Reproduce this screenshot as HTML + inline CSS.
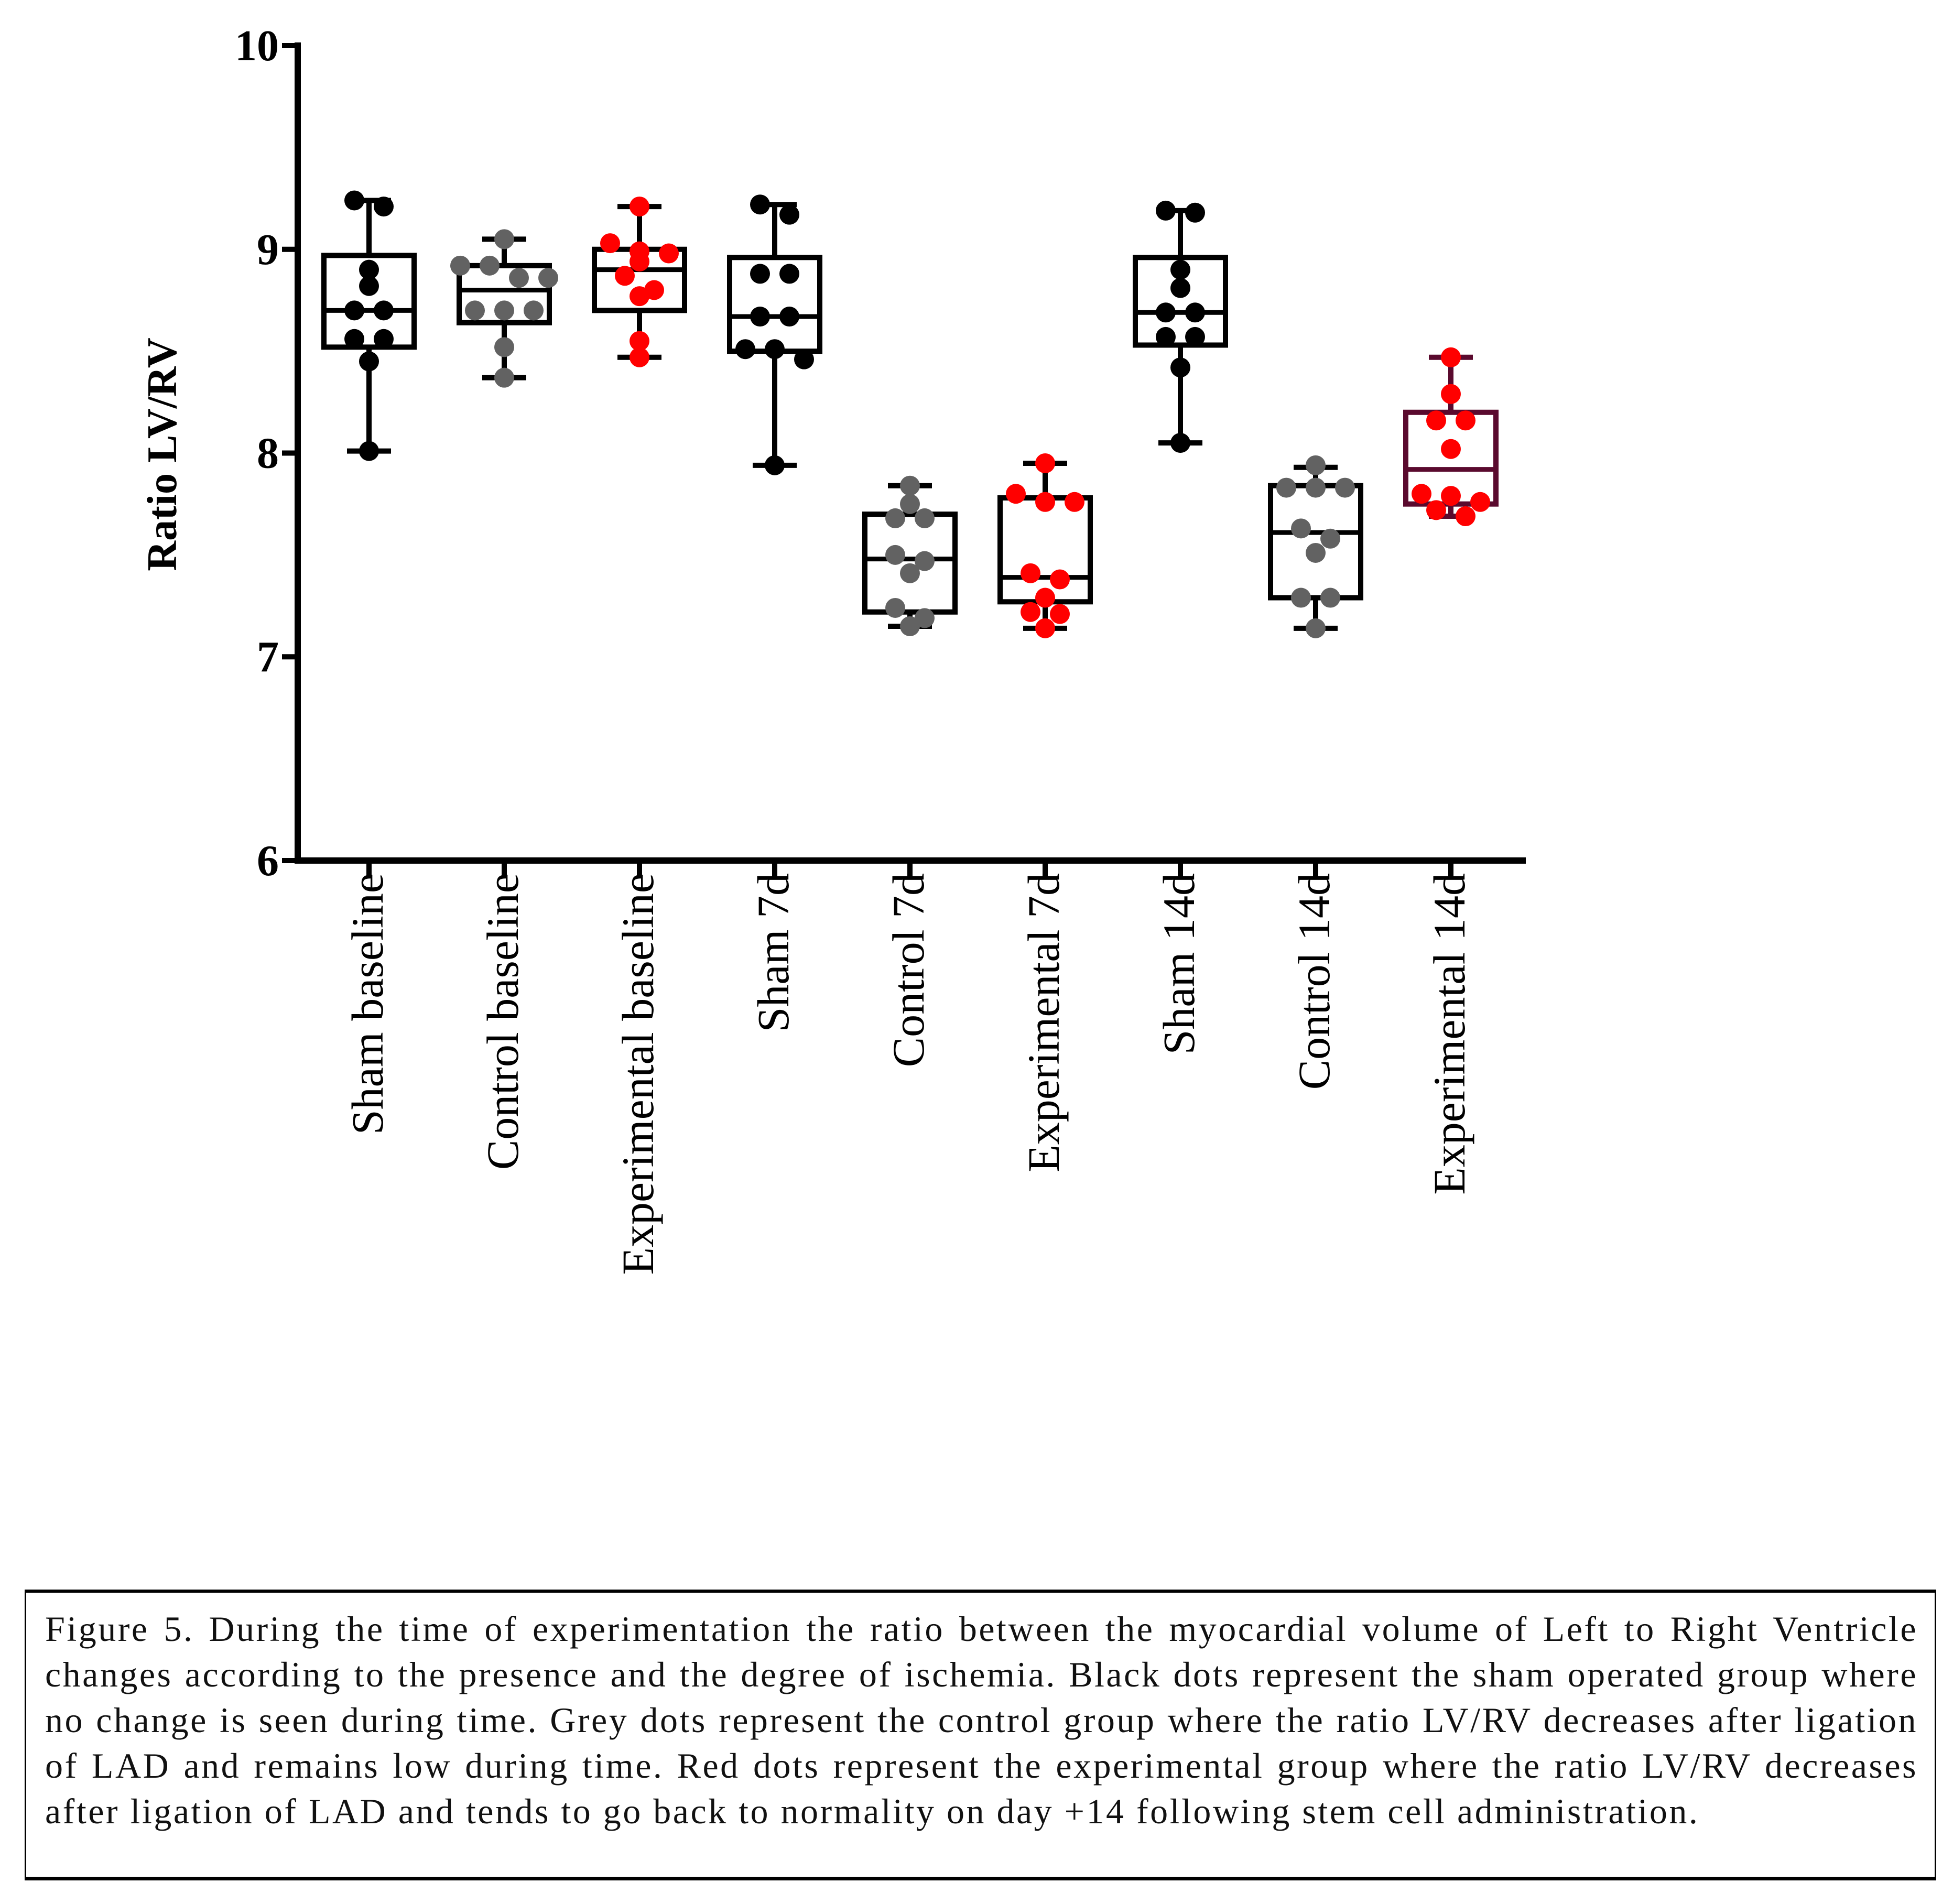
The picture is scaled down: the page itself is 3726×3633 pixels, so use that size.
<!DOCTYPE html>
<html><head><meta charset="utf-8"><style>
html,body{margin:0;padding:0;background:#fff;}
#wrap{position:relative;width:3726px;height:3633px;overflow:hidden;background:#fff;}
#caption{position:absolute;left:47px;top:3033px;width:3647px;height:555px;box-sizing:border-box;border-top:6px solid #000;border-bottom:7px solid #000;border-left:3px solid #000;border-right:3px solid #000;padding:26px 32px 0 36px;font-family:"Liberation Serif","Times New Roman",serif;font-size:68px;line-height:87px;letter-spacing:3.5px;color:#111;}
#caption div{white-space:nowrap;text-align:justify;text-align-last:justify;}
#caption div.last{text-align-last:left;}
</style></head><body>
<div id="wrap">
<svg id="chart" width="3726" height="3000" style="position:absolute;left:0;top:0" font-family="Liberation Serif, serif"></svg>
<div id="caption">
<div>Figure 5. During the time of experimentation the ratio between the myocardial volume of Left to Right Ventricle</div>
<div>changes according to the presence and the degree of ischemia. Black dots represent the sham operated group where</div>
<div>no change is seen during time. Grey dots represent the control group where the ratio LV/RV decreases after ligation</div>
<div>of LAD and remains low during time. Red dots represent the experimental group where the ratio LV/RV decreases</div>
<div class="last">after ligation of LAD and tends to go back to normality on day +14 following stem cell administration.</div>
</div>
</div>
<script>
const categories=["Sham baseline","Control baseline","Experimental baseline","Sham 7d","Control 7d","Experimental 7d","Sham 14d","Control 14d","Experimental 14d"];
const groupType=["sham","control","exp","sham","control","exp","sham","control","exp"];
const points=[
[9.24,9.21,8.90,8.82,8.70,8.70,8.56,8.56,8.45,8.01],
[9.05,8.92,8.92,8.86,8.86,8.70,8.70,8.70,8.52,8.37],
[9.21,9.03,8.99,8.98,8.94,8.87,8.80,8.77,8.55,8.47],
[9.22,9.17,8.88,8.88,8.67,8.67,8.51,8.51,8.46,7.94],
[7.84,7.75,7.68,7.68,7.50,7.47,7.41,7.24,7.19,7.15],
[7.95,7.80,7.76,7.76,7.41,7.38,7.29,7.22,7.21,7.14],
[9.19,9.18,8.90,8.81,8.69,8.69,8.57,8.57,8.42,8.05],
[7.94,7.83,7.83,7.83,7.63,7.58,7.51,7.29,7.29,7.14],
[8.47,8.29,8.16,8.16,8.02,7.80,7.79,7.76,7.72,7.69]];
const q1=[8.52,8.64,8.70,8.50,7.22,7.27,8.53,7.29,7.75];
const median=[8.70,8.80,8.90,8.67,7.48,7.39,8.69,7.61,7.92];
const q3=[8.97,8.92,9.00,8.96,7.70,7.78,8.96,7.84,8.20];
const wMin=[8.01,8.37,8.47,7.94,7.15,7.14,8.05,7.14,7.69];
const wMax=[9.24,9.05,9.21,9.22,7.84,7.95,9.19,7.93,8.47];
const yTicks=[6,7,8,9,10];

const NS="http://www.w3.org/2000/svg";
const svg=document.getElementById('chart');
const X0=568, Y10=87, Y6=1642, XEND=2911;
const y=v=>Y6-(v-6)*(Y6-Y10)/4;
const x=i=>704+i*258;
const dotColor={sham:"#000",control:"#626262",exp:"#ff0000"};
function mk(t,a){const e=document.createElementNS(NS,t);for(const k in a)e.setAttribute(k,a[k]);svg.appendChild(e);return e;}

let e=mk('line',{x1:X0,y1:Y10-6,x2:X0,y2:Y6+6,stroke:'#000','stroke-width':12});


e=mk('line',{x1:X0-6,y1:Y6,x2:XEND,y2:Y6,stroke:'#000','stroke-width':12});


yTicks.forEach(v=>{
  let t=mk('line',{x1:X0-30,y1:y(v),x2:X0,y2:y(v),stroke:'#000','stroke-width':10});
  
  
  let l=mk('text',{x:X0-36,y:y(v)+28,'text-anchor':'end','font-size':84,'font-weight':'bold',fill:'#000'});
  l.textContent=v;
  
  
});
let yt=mk('text',{x:0,y:0,transform:'translate(336,867) rotate(-90)','text-anchor':'middle','font-size':80,'font-weight':'bold',fill:'#000'});
yt.textContent='Ratio LV/RV';



categories.forEach((c,i)=>{
  const cx=x(i), g=groupType[i];
  let t=mk('line',{x1:cx,y1:Y6,x2:cx,y2:Y6+30,stroke:'#000','stroke-width':10});
  
  
  let l=mk('text',{x:0,y:0,transform:`translate(${cx+26},${Y6+24}) rotate(-90)`,'text-anchor':'end','font-size':86,fill:'#000'});
  l.textContent=c;
  
  
  const bc=(i===8)?'#5a0a2e':'#000';
  let w=mk('line',{x1:cx,y1:y(wMax[i]),x2:cx,y2:y(wMin[i]),stroke:bc,'stroke-width':10});
  
  
  [wMax[i],wMin[i]].forEach(v=>{
    let cp=mk('line',{x1:cx-42,y1:y(v),x2:cx+42,y2:y(v),stroke:bc,'stroke-width':10});
    
    
  });
  let b=mk('rect',{x:cx-86,y:y(q3[i]),width:172,height:y(q1[i])-y(q3[i]),fill:'#fff',stroke:bc,'stroke-width':10});
  
  
  let m=mk('line',{x1:cx-86,y1:y(median[i]),x2:cx+86,y2:y(median[i]),stroke:bc,'stroke-width':9});
  
  
  const vals=points[i].slice().sort((a,b)=>b-a);
  const rows=[];let cur=[vals[0]];
  for(let k=1;k<vals.length;k++){if(cur[0]-vals[k]<0.07)cur.push(vals[k]);else{rows.push(cur);cur=[vals[k]];}}
  rows.push(cur);
  rows.forEach(r=>r.forEach((v,k)=>{
    const off=(k-(r.length-1)/2)*56;
    let d=mk('circle',{cx:cx+off,cy:y(v),r:19,fill:dotColor[g]});
    
    
  }));
});
</script>
</body></html>
